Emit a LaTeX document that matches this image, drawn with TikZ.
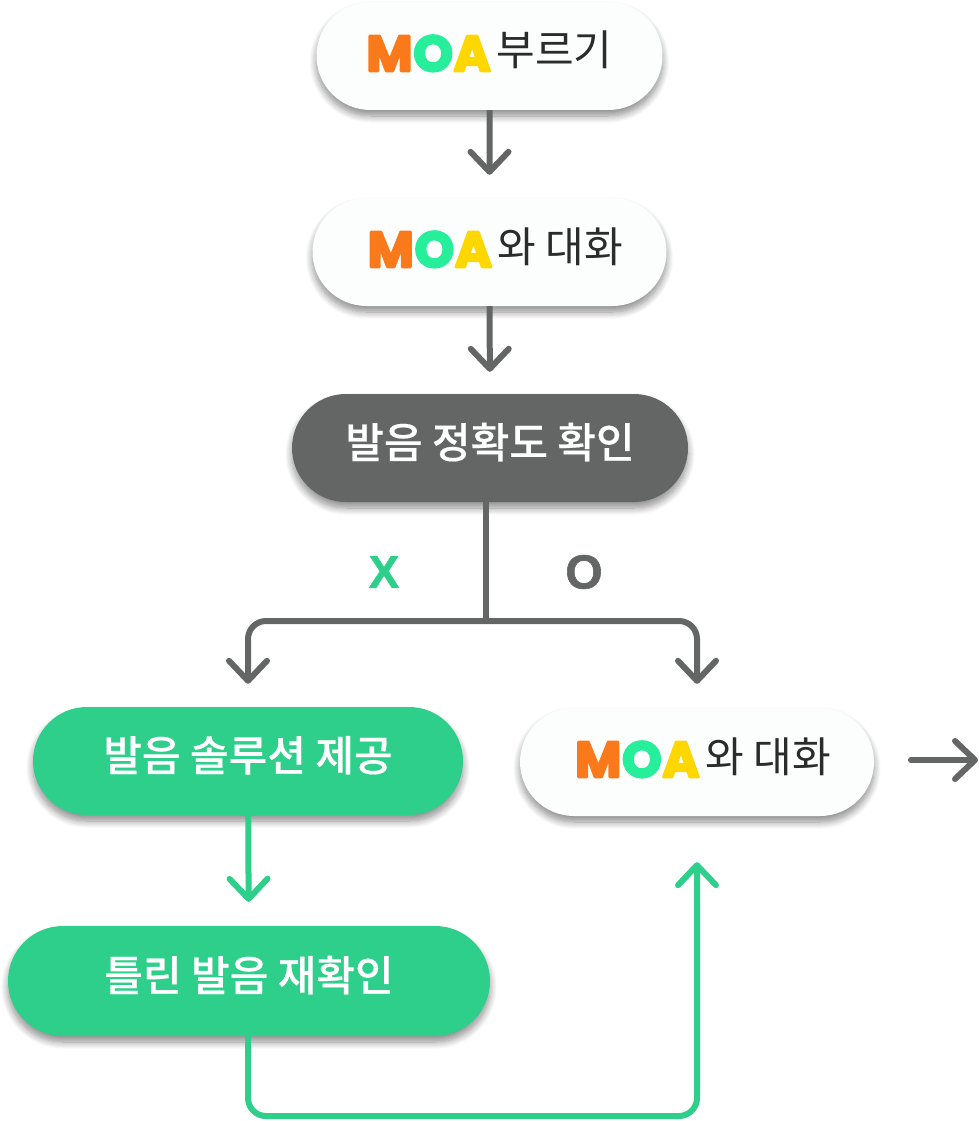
\documentclass[tikz,border=0pt]{standalone}
\usepackage{fontspec}
\usepackage{tikz}
\usetikzlibrary{arrows.meta,shapes.misc,shadows.blur}
\setmainfont{Noto Sans CJK KR}
\newfontfamily\moafont[FakeBold=5]{Poppins Bold}
\newfontfamily\markfont[FakeBold=1.2]{Liberation Sans Bold}
\newfontfamily\whitefont[FakeBold=0.4]{Noto Sans CJK KR Medium}
\definecolor{linegray}{HTML}{646665}
\definecolor{linegreen}{HTML}{2DCF8B}
\definecolor{boxwhite}{HTML}{FCFEFE}
\definecolor{textdark}{HTML}{2B2B2B}
\definecolor{moaorange}{HTML}{FA7A1B}
\definecolor{moagreen}{HTML}{26EE9A}
\definecolor{moayellow}{HTML}{FFD700}
\newcommand{\roundjoin}{\special{pdf:code 1 j}}
\newcommand{\moaword}{\raisebox{-5pt}{\roundjoin\fontsize{50}{60}\moafont\textcolor{moaorange}{M}\kern1pt\textcolor{moagreen}{O}\kern1pt\textcolor{moayellow}{A}}}
\tikzset{
	softshadow/.style={blur shadow={shadow xshift=0pt,shadow yshift=-6pt,shadow blur radius=7pt,shadow blur steps=10,shadow opacity=45}},
	pill/.style={rounded rectangle,softshadow,inner sep=0pt,minimum height=108pt,text height=30pt,text depth=10pt},
	whitepill/.style={pill,fill=boxwhite,text=textdark,font=\fontsize{42}{46}\selectfont},
	graypill/.style={pill,fill=linegray,text=white,font=\fontsize{42}{50}\whitefont},
	greenpill/.style={pill,fill=linegreen,text=white,font=\fontsize{42}{50}\whitefont},
	grayline/.style={draw=linegray,line width=6pt},
	greenline/.style={draw=linegreen,line width=6pt},
	barb/.style={-{Straight Barb[length=20pt,width=38pt,round]}}
}
\begin{document}
\begin{tikzpicture}[x=1pt,y=-1pt]
	\useasboundingbox (0,0) rectangle (979,1121);

	\node[whitepill,minimum width=346pt] (call) at (489.5,56) {\moaword\hspace{6pt}부르기};
	\node[whitepill,minimum width=354pt] (talk) at (489.5,252) {\hspace*{12pt}\moaword\hspace{6pt}와 대화};
	\node[graypill,minimum width=396pt] (check) at (490,448) {발음 정확도 확인};
	\node[greenpill,minimum width=430pt] (solution) at (248,761) {발음 솔루션 제공};
	\node[whitepill,minimum width=354pt] (talkagain) at (697,762) {\hspace*{12pt}\moaword\hspace{6pt}와 대화};
	\node[greenpill,minimum width=482pt,minimum height=110pt] (recheck) at (249,981) {틀린 발음 재확인};

	\node[text=linegreen,font=\markfont\fontsize{46}{54}\selectfont] (markx) at (384,572) {\roundjoin X};
	\node[text=linegray,font=\markfont\fontsize{48}{54}\selectfont] (marko) at (584,572) {O};

	\coordinate (split) at (486,621);
	\coordinate (corner) at (248,1116);
	\coordinate (outstart) at (911,760);
	\coordinate (outend) at (978,760);

	\draw[grayline,barb,shorten >=23pt] (call) -- (talk);
	\draw[grayline,barb,shorten >=22pt] (talk) -- (check);
	\draw[grayline] (check.south -| split) -- (split);
	\draw[grayline,barb,rounded corners=18pt,shorten >=23pt] (split) -| (solution.north);
	\draw[grayline,barb,rounded corners=18pt,shorten >=24pt] (split) -| (talkagain.north);
	\draw[greenline,barb,shorten >=24pt] (solution) -- (recheck);
	\draw[greenline,barb,rounded corners=18pt,shorten >=46pt] (recheck.south -| corner) -- (corner) -| (talkagain.south);
	\draw[grayline,barb,line cap=round] (outstart) -- (outend);
\end{tikzpicture}
\end{document}
